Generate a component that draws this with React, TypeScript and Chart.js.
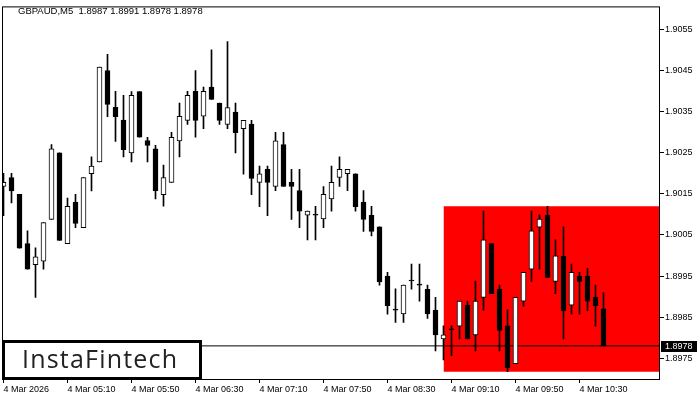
import { useEffect, useRef } from "react";
import { Chart, registerables } from "chart.js";

Chart.register(...registerables);

const symbolTitle = "GBPAUD,M5  1.8987 1.8991 1.8978 1.8978";
const logoText = "InstaFintech";

const openPrices = [
  1.90168, 1.9019, 1.90149, 1.90029, 1.89978, 1.89986, 1.90088, 1.9025, 1.90029, 1.9013,
  1.90068, 1.90199, 1.90228, 1.9045, 1.90361, 1.9033, 1.9025, 1.90399, 1.9028, 1.9026,
  1.90148, 1.90178, 1.90279, 1.90329, 1.904, 1.90339, 1.9041, 1.90371, 1.90319, 1.90349,
  1.90309, 1.9032, 1.90178, 1.9021, 1.90168, 1.9027, 1.90178, 1.90158, 1.90098, 1.90098,
  1.90089, 1.90138, 1.9019, 1.90199, 1.90199, 1.9013, 1.90098, 1.9007, 1.8995, 1.89867,
  1.89858, 1.89938, 1.89928, 1.89918, 1.89867, 1.89797, 1.89819, 1.89828, 1.89879, 1.89807,
  1.89898, 1.90029, 1.89918, 1.89829, 1.89737, 1.89889, 1.89967, 1.90069, 1.90098, 1.89937,
  1.89998, 1.89879, 1.8995, 1.8995, 1.89898, 1.8987,
];
const highPrices = [
  1.902, 1.902, 1.90149, 1.9006, 1.90019, 1.9008, 1.9027, 1.9025, 1.9014, 1.90149,
  1.9019, 1.9024, 1.90459, 1.9049, 1.904, 1.9039, 1.90399, 1.90399, 1.90288, 1.90268,
  1.9022, 1.903, 1.90371, 1.904, 1.9045, 1.9041, 1.90501, 1.90371, 1.90521, 1.90371,
  1.90329, 1.90329, 1.90218, 1.90218, 1.903, 1.903, 1.9021, 1.9021, 1.90108, 1.9012,
  1.90168, 1.90218, 1.9024, 1.9021, 1.90199, 1.90158, 1.9012, 1.9007, 1.89959, 1.89919,
  1.89928, 1.89979, 1.89979, 1.89928, 1.89898, 1.89829, 1.89829, 1.89889, 1.89889, 1.89938,
  1.90108, 1.90029, 1.89928, 1.89868, 1.89898, 1.89959, 1.90108, 1.90099, 1.9012, 1.90038,
  1.9007, 1.89979, 1.89959, 1.89969, 1.89928, 1.8991,
];
const lowPrices = [
  1.90097, 1.90128, 1.90018, 1.89967, 1.89898, 1.89967, 1.90088, 1.90037, 1.90029, 1.90068,
  1.90068, 1.90157, 1.90228, 1.90338, 1.90278, 1.9024, 1.90228, 1.90288, 1.90228, 1.90138,
  1.9012, 1.90178, 1.9024, 1.90319, 1.90288, 1.90309, 1.9038, 1.90319, 1.90309, 1.9025,
  1.90198, 1.90148, 1.90119, 1.90097, 1.90158, 1.90168, 1.90088, 1.90068, 1.90038, 1.90038,
  1.90068, 1.90108, 1.90168, 1.90158, 1.90108, 1.90059, 1.90048, 1.89928, 1.89857, 1.89837,
  1.89837, 1.89918, 1.89889, 1.89847, 1.89768, 1.89746, 1.89756, 1.89797, 1.89797, 1.89768,
  1.89867, 1.89907, 1.89768, 1.89717, 1.89737, 1.89877, 1.89937, 1.89967, 1.89947, 1.89907,
  1.89797, 1.89857, 1.89857, 1.89866, 1.89828, 1.8978,
];
const closePrices = [
  1.90178, 1.90157, 1.90018, 1.89967, 1.89997, 1.9008, 1.9026, 1.90037, 1.9012, 1.90078,
  1.9019, 1.90218, 1.90459, 1.90368, 1.90338, 1.90258, 1.9039, 1.90288, 1.90268, 1.90158,
  1.9019, 1.90288, 1.90339, 1.9039, 1.90329, 1.904, 1.9038, 1.90329, 1.9036, 1.90299,
  1.90329, 1.90188, 1.90199, 1.90178, 1.90279, 1.90168, 1.90168, 1.90108, 1.90108, 1.90098,
  1.90149, 1.90178, 1.9021, 1.9021, 1.90119, 1.90088, 1.90059, 1.89936, 1.89878, 1.89867,
  1.89928, 1.89938, 1.89928, 1.89858, 1.89807, 1.89807, 1.89819, 1.89889, 1.89797, 1.89889,
  1.90038, 1.89907, 1.89818, 1.89727, 1.89898, 1.89959, 1.9006, 1.90089, 1.89947, 1.89999,
  1.89866, 1.89959, 1.89937, 1.89889, 1.89878, 1.8978,
];

const xTickIndices = [0, 8, 16, 24, 32, 40, 48, 56, 64, 72];
const xTickLabels = [
  "4 Mar 2026", "4 Mar 05:10", "4 Mar 05:50", "4 Mar 06:30", "4 Mar 07:10",
  "4 Mar 07:50", "4 Mar 08:30", "4 Mar 09:10", "4 Mar 09:50", "4 Mar 10:30",
];
const yTickValues = [1.8975, 1.8985, 1.8995, 1.9005, 1.9015, 1.9025, 1.9035, 1.9045, 1.9055];

const currentPrice = 1.8978;
const patternStartIndex = 55;
const patternTop = 1.9012;
const patternBottom = 1.89717;

const xMin = -0.1875;
const xMax = 82.0625;
const yMin = 1.89697;
const yMax = 1.906065;

const AXIS_FONT = "Liberation Sans";

export default function App() {
  const canvasRef = useRef<HTMLCanvasElement | null>(null);

  useEffect(() => {
    const canvas = canvasRef.current;
    if (!canvas) return;

    const idx = openPrices.map((_, i) => i);
    const wickData = idx.map((i) => ({ x: i, y: [lowPrices[i], highPrices[i]] }));
    const bodyData = idx.map((i) => ({ x: i, y: [openPrices[i], closePrices[i]] }));
    const bodyFill = idx.map((i) => (closePrices[i] > openPrices[i] ? "#ffffff" : "#000000"));

    const overlay = {
      id: "overlay",
      afterDraw(chart: any) {
        const { ctx, chartArea: a, scales } = chart;
        ctx.save();
        // frame
        ctx.strokeStyle = "#000";
        ctx.lineWidth = 1;
        ctx.strokeRect(a.left + 0.5, a.top + 0.5, a.right - a.left - 1, a.bottom - a.top - 1);
        // title
        ctx.fillStyle = "#000";
        ctx.font = `9.5px "${AXIS_FONT}"`;
        ctx.textAlign = "left";
        ctx.textBaseline = "middle";
        ctx.fillText(symbolTitle, 18, 11);
        // current price label
        const py = scales.y.getPixelForValue(currentPrice);
        ctx.fillStyle = "#000";
        ctx.fillRect(a.right + 1, Math.round(py) - 5, 36, 11);
        ctx.fillStyle = "#fff";
        ctx.font = `9px "${AXIS_FONT}"`;
        ctx.fillText(currentPrice.toFixed(4), a.right + 5, Math.round(py) + 0.5);
        // logo
        ctx.fillStyle = "#fff";
        ctx.fillRect(3, 341, 198, 38);
        ctx.lineWidth = 3;
        ctx.strokeStyle = "#000";
        ctx.strokeRect(3.5, 341.5, 197, 37);
        ctx.fillStyle = "#222";
        ctx.font = `500 25px "Open Sans"`;
        (ctx as any).letterSpacing = "1.2px";
        ctx.textBaseline = "alphabetic";
        ctx.fillText(logoText, 22, 368);
        ctx.restore();
      },
    };

    const chart = new Chart(canvas, {
      type: "bar",
      data: {
        datasets: [
          {
            type: "line",
            data: [
              { x: patternStartIndex, y: patternTop },
              { x: xMax, y: patternTop },
            ],
            borderWidth: 0,
            borderColor: "rgba(0,0,0,0)",
            pointRadius: 0,
            backgroundColor: "#ff0000",
            fill: { value: patternBottom },
            order: 3,
          } as any,
          {
            type: "line",
            data: [
              { x: xMin, y: currentPrice },
              { x: xMax, y: currentPrice },
            ],
            borderWidth: 1,
            borderColor: "#000",
            pointRadius: 0,
            fill: false,
            order: 2,
          } as any,
          {
            type: "bar",
            data: wickData as any,
            backgroundColor: "#000",
            borderWidth: 0,
            barThickness: 1,
            grouped: false,
            order: 1,
          } as any,
          {
            type: "bar",
            data: bodyData as any,
            backgroundColor: bodyFill,
            borderColor: "#000",
            borderWidth: 1,
            borderSkipped: false,
            barThickness: 5,
            minBarLength: 1,
            grouped: false,
            order: 0,
          } as any,
        ],
      },
      options: {
        animation: false,
        responsive: false,
        devicePixelRatio: 1,
        events: [],
        layout: { padding: { left: 2, top: 2, right: 0, bottom: 0 } },
        plugins: {
          legend: { display: false },
          tooltip: { enabled: false },
          title: { display: false },
        },
        scales: {
          x: {
            type: "linear",
            min: xMin,
            max: xMax,
            offset: false,
            afterFit: (s: any) => {
              s.height = 20;
            },
            afterBuildTicks: (s: any) => {
              s.ticks = xTickIndices.map((v) => ({ value: v }));
            },
            border: { display: false },
            grid: {
              display: true,
              drawOnChartArea: false,
              drawTicks: true,
              tickLength: 3,
              color: "#000",
              offset: false,
            },
            ticks: {
              autoSkip: false,
              maxRotation: 0,
              minRotation: 0,
              align: "start",
              padding: 1,
              color: "#000",
              font: { family: AXIS_FONT, size: 9 },
              callback: (v: any) => {
                const k = xTickIndices.indexOf(Number(v));
                return k >= 0 ? xTickLabels[k] : "";
              },
            },
          },
          y: {
            type: "linear",
            position: "right",
            min: yMin,
            max: yMax,
            afterFit: (s: any) => {
              s.width = 40;
            },
            afterBuildTicks: (s: any) => {
              s.ticks = yTickValues.map((v) => ({ value: v }));
            },
            border: { display: false },
            grid: {
              display: true,
              drawOnChartArea: false,
              drawTicks: true,
              tickLength: 4,
              color: "#000",
            },
            ticks: {
              padding: 1,
              color: "#000",
              font: { family: AXIS_FONT, size: 9 },
              callback: (v: any) => Number(v).toFixed(4),
            },
          },
        },
      } as any,
      plugins: [overlay],
    });

    return () => chart.destroy();
  }, []);

  return (
    <div style={{ position: "absolute", left: 0, top: 0, width: 700, height: 400, background: "#fff" }}>
      <canvas ref={canvasRef} width={700} height={400} style={{ display: "block" }} />
    </div>
  );
}
